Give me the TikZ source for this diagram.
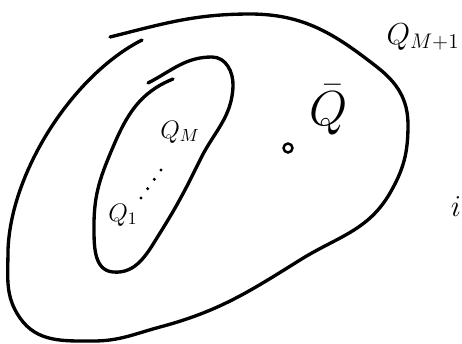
\documentclass[tikz,border=0pt]{standalone}
\usepackage{amsmath}
\usetikzlibrary{calc}

\begin{document}
\begin{tikzpicture}[
    x=0.02cm, y=-0.02cm,
    every node/.style={font=\Large},
    curve/.style={line width=1.9pt, line cap=round, line join=round},
    lbl/.style={inner sep=0pt}
]
\useasboundingbox (0,0) rectangle (462,343);
% outer region
\draw[curve] (110,37) to[out=14,in=180] (250,14) to[out=0,in=142] (377,67)
  to[out=-38,in=90] (408,125) to[out=-90,in=60] (390,193)
  to[out=-120,in=32] (300,260) to[out=-148,in=15] (160,327)
  to[out=-165,in=0] (93,341) to[out=180,in=-55] (20,318)
  to[out=125,in=-90] (8,250) to[out=88,in=-153,looseness=0.8] (142,40);
% inner region
\draw[curve] (148,83) to[out=27,in=180] (212,57) to[out=0,in=88] (233,86)
  to[out=-92,in=64] (200,160) to[out=-116,in=58] (160,233)
  to[out=-122,in=-5] (113,272) to[out=175,in=-90] (94,225)
  to[out=90,in=-113] (113,147) to[out=67,in=-158] (173,79);
% labels
\node[lbl, font=\LARGE] (qmone) at (423,37) {$Q_{M+1}$};
\node[lbl, font=\Large] (qm) at (180,132) {$Q_M$};
\node[lbl, font=\Large] (qone) at (123,215) {$Q_1$};
\node[lbl, font=\huge, scale=1.35] (qbar) at (329,110) {$\bar{Q}$};
\node[circle, draw, line width=1.4pt, inner sep=1.8pt] (pt) at (288,148) {};
\node[lbl, font=\LARGE] (idx) at (456,207) {$i$};
\foreach \t in {0,1,2,3}
  \fill ($(141,198)!\t/3!(161,170)$) circle (1.7);
\end{tikzpicture}
\end{document}
